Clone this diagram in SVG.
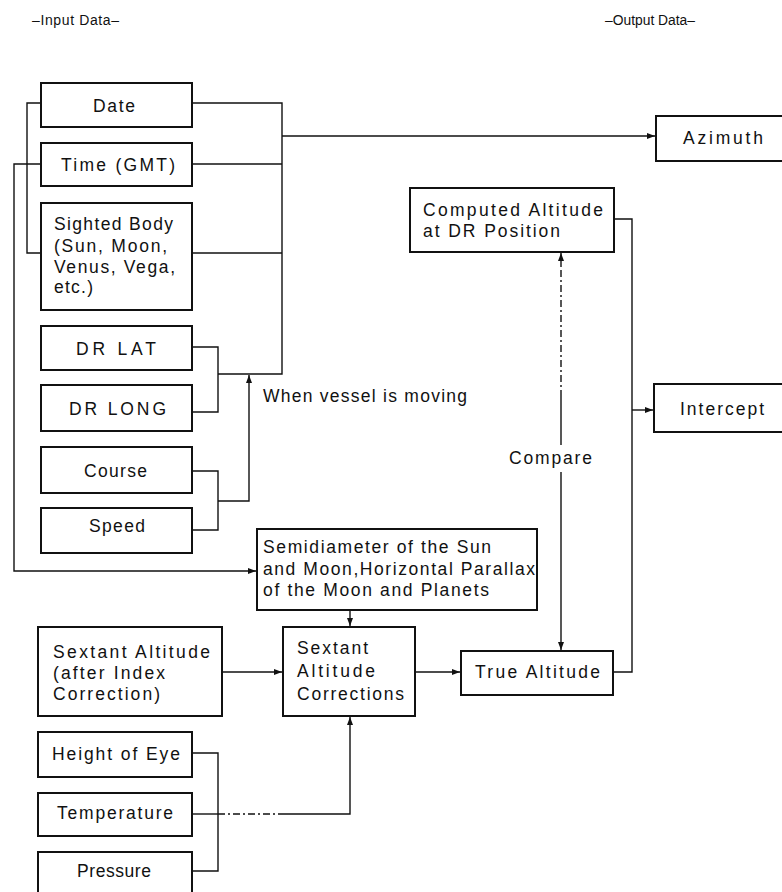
<svg xmlns="http://www.w3.org/2000/svg" width="782" height="892" viewBox="0 0 782 892">
<style>
  .box { fill: #fff; stroke: #111; stroke-width: 2; }
  .t { font-family: "Liberation Sans", Arial, sans-serif; font-size: 17.5px; fill: #111; }
  .h { font-family: "Liberation Sans", Arial, sans-serif; font-size: 14px; fill: #111; }
  .ln { fill: none; stroke: #111; stroke-width: 1.4; }
  .dash { fill: none; stroke: #111; stroke-width: 1.4; stroke-dasharray: 7 3 2 3; }
</style>
<defs>
  <marker id="arr" markerUnits="userSpaceOnUse" markerWidth="10" markerHeight="8" refX="8" refY="3" orient="auto">
    <path d="M0,0 L8,3 L0,6 z" fill="#111"/>
  </marker>
</defs>
<rect width="782" height="892" fill="#fff"/>

<g id="headers">
  <text class="h" x="32" y="25" textLength="87">–Input Data–</text>
  <text class="h" x="605" y="25" textLength="90" lengthAdjust="spacingAndGlyphs">–Output Data–</text>
</g>

<g id="connectors">
  <path class="ln" d="M41,103 H27 V253 H41"/>
  <path class="ln" d="M41,164 H14 V571 H256" marker-end="url(#arr)"/>
  <path class="ln" d="M192,103 H282 V374 H218"/>
  <path class="ln" d="M192,164 H282"/>
  <path class="ln" d="M192,253 H282"/>
  <path class="ln" d="M282,136 H655" marker-end="url(#arr)"/>
  <path class="ln" d="M192,347 H218 V412 H192"/>
  <path class="ln" d="M192,471 H218 V530 H192"/>
  <path class="ln" d="M218,501 H249 V375" marker-end="url(#arr)"/>
  <path class="ln" d="M222,672 H282" marker-end="url(#arr)"/>
  <path class="ln" d="M350,610 V626" marker-end="url(#arr)"/>
  <path class="ln" d="M192,753 H218 V871 H192"/>
  <path class="ln" d="M192,814 H218"/>
  <path class="dash" d="M218,814 H285"/>
  <path class="ln" d="M285,814 H350 V717" marker-end="url(#arr)"/>
  <path class="ln" d="M415,672 H460" marker-end="url(#arr)"/>
  <path class="ln" d="M561,472 V650" marker-end="url(#arr)"/>
  <path class="ln" d="M561,445 V397"/>
  <path class="dash" d="M561,397 V266"/>
  <path class="ln" d="M561,266 V253" marker-end="url(#arr)"/>
  <path class="ln" d="M614,219 H632 V672 H613"/>
  <path class="ln" d="M632,410 H653" marker-end="url(#arr)"/>
  <text class="t" x="263" y="402" textLength="204">When vessel is moving</text>
  <text class="t" x="509" y="464" textLength="83">Compare</text>
</g>

<g id="date"><rect class="box" x="41" y="83" width="151" height="44"/><text class="t" x="93" y="112" textLength="42">Date</text></g>
<g id="time"><rect class="box" x="41" y="143" width="151" height="43"/><text class="t" x="61" y="171" textLength="114">Time (GMT)</text></g>
<g id="sighted-body"><rect class="box" x="41" y="203" width="151" height="107"/>
  <text class="t" x="54" y="230" textLength="119">Sighted Body</text>
  <text class="t" x="54" y="252" textLength="113">(Sun, Moon,</text>
  <text class="t" x="54" y="273" textLength="121">Venus, Vega,</text>
  <text class="t" x="54" y="293" textLength="39">etc.)</text>
</g>
<g id="dr-lat"><rect class="box" x="41" y="326" width="151" height="44"/><text class="t" x="76" y="355" textLength="80">DR LAT</text></g>
<g id="dr-long"><rect class="box" x="41" y="385" width="151" height="46"/><text class="t" x="69" y="415" textLength="97">DR LONG</text></g>
<g id="course"><rect class="box" x="41" y="447" width="151" height="46"/><text class="t" x="84" y="477" textLength="63">Course</text></g>
<g id="speed"><rect class="box" x="41" y="508" width="151" height="45"/><text class="t" x="89" y="532" textLength="56">Speed</text></g>

<g id="semidiameter"><rect class="box" x="257" y="529" width="280" height="81"/>
  <text class="t" x="263" y="553" textLength="228">Semidiameter of the Sun</text>
  <text class="t" x="263" y="575" textLength="272">and Moon,Horizontal Parallax</text>
  <text class="t" x="263" y="596" textLength="226">of the Moon and Planets</text>
</g>
<g id="sextant-altitude"><rect class="box" x="38" y="627" width="184" height="89"/>
  <text class="t" x="53" y="658" textLength="157">Sextant Altitude</text>
  <text class="t" x="53" y="679" textLength="112">(after Index</text>
  <text class="t" x="53" y="700" textLength="107">Correction)</text>
</g>
<g id="sextant-corrections"><rect class="box" x="283" y="627" width="132" height="89"/>
  <text class="t" x="297" y="654" textLength="71">Sextant</text>
  <text class="t" x="297" y="677" textLength="78">Altitude</text>
  <text class="t" x="297" y="700" textLength="107">Corrections</text>
</g>
<g id="height-of-eye"><rect class="box" x="38" y="732" width="154" height="45"/><text class="t" x="52" y="760" textLength="128">Height of Eye</text></g>
<g id="temperature"><rect class="box" x="38" y="793" width="154" height="43"/><text class="t" x="57" y="819" textLength="116">Temperature</text></g>
<g id="pressure"><rect class="box" x="38" y="852" width="154" height="50"/><text class="t" x="77" y="877" textLength="74">Pressure</text></g>

<g id="true-altitude"><rect class="box" x="461" y="651" width="152" height="44"/><text class="t" x="475" y="678" textLength="125">True Altitude</text></g>
<g id="computed-altitude"><rect class="box" x="410" y="188" width="204" height="64"/>
  <text class="t" x="423" y="216" textLength="180">Computed Altitude</text>
  <text class="t" x="423" y="237" textLength="137">at DR Position</text>
</g>
<g id="azimuth"><rect class="box" x="656" y="116" width="140" height="45"/><text class="t" x="683" y="144" textLength="80">Azimuth</text></g>
<g id="intercept"><rect class="box" x="654" y="384" width="140" height="48"/><text class="t" x="680" y="415" textLength="84">Intercept</text></g>
</svg>
